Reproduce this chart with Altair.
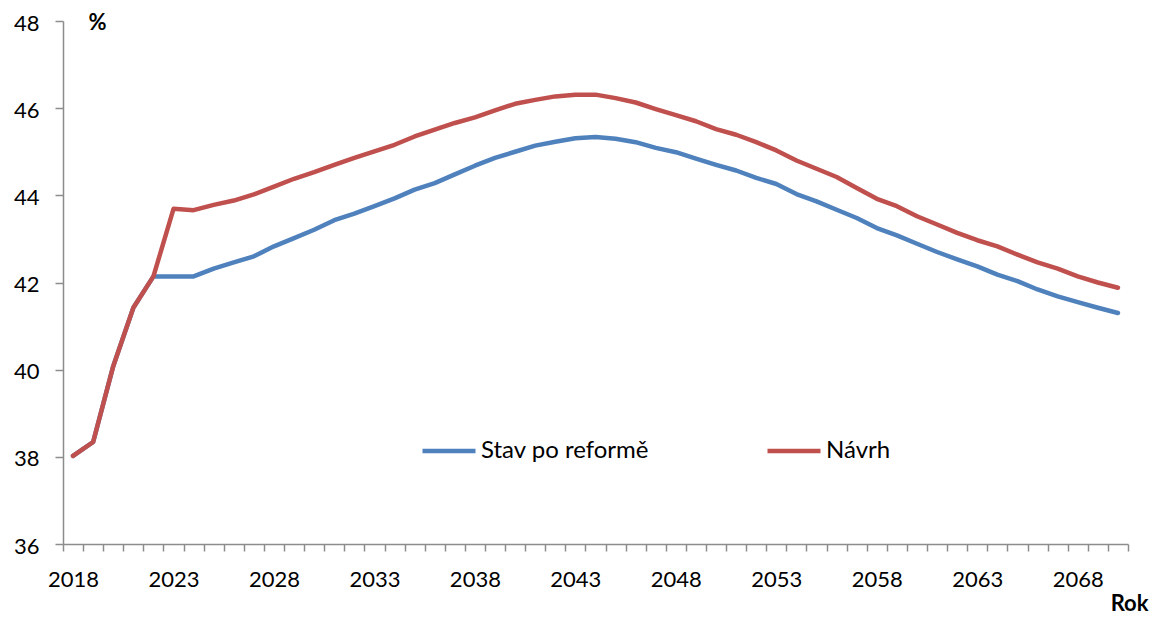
import altair as alt
import pandas as pd

years = list(range(2018, 2071))

stav = [38.02, 38.34, 40.08, 41.42, 42.14, 42.14, 42.14, 42.32, 42.46, 42.60,
        42.83, 43.02, 43.21, 43.43, 43.58, 43.75, 43.93, 44.13, 44.28, 44.48,
        44.68, 44.86, 45.00, 45.14, 45.23, 45.31, 45.34, 45.30, 45.22, 45.09,
        44.99, 44.84, 44.70, 44.57, 44.40, 44.26, 44.03, 43.86, 43.67, 43.48,
        43.25, 43.08, 42.89, 42.70, 42.53, 42.37, 42.18, 42.03, 41.84, 41.68,
        41.55, 41.42, 41.30]

navrh = [38.02, 38.34, 40.08, 41.42, 42.14, 43.69, 43.66, 43.78, 43.88, 44.02,
         44.20, 44.38, 44.53, 44.70, 44.86, 45.01, 45.16, 45.35, 45.51, 45.66,
         45.79, 45.95, 46.10, 46.19, 46.27, 46.31, 46.31, 46.23, 46.13, 45.98,
         45.84, 45.70, 45.52, 45.39, 45.22, 45.03, 44.80, 44.61, 44.42, 44.17,
         43.92, 43.75, 43.52, 43.33, 43.14, 42.97, 42.83, 42.64, 42.46, 42.32,
         42.14, 42.00, 41.88]

series_names = ["Stav po reformě", "Návrh"]
series_colors = ["#4F81BD", "#C0504D"]
y_ticks = [36, 38, 40, 42, 44, 46, 48]

df = pd.DataFrame({
    "rok": years * 2,
    "hodnota": stav + navrh,
    "serie": [series_names[0]] * len(years) + [series_names[1]] * len(years),
})

x_tick_values = [years[0] - 0.5 + i for i in range(len(years) + 1)]

x_enc = alt.X(
    "rok:Q",
    scale=alt.Scale(domain=[years[0] - 0.5, years[-1] + 0.5], nice=False, zero=False),
    axis=alt.Axis(
        values=x_tick_values,
        labelExpr="((datum.value + 0.5 - 2018) % 5 == 0) && datum.value < 2070 ? format(datum.value + 0.5, 'd') : ''",
        labelOffset=10,
        labelOverlap=False,
        labelFlush=False,
        labelPadding=18,
        tickSize=7,
        grid=False,
        title="Rok",
        titleAlign="right",
        titleBaseline="alphabetic",
        titleX=1085,
        titleY=66,
        titleFontWeight="bold",
    ),
)

y_enc = alt.Y(
    "hodnota:Q",
    scale=alt.Scale(domain=[36, 48], nice=False, zero=False),
    axis=alt.Axis(
        values=y_ticks,
        tickSize=8,
        labelPadding=16,
        labelOffset=2,
        grid=False,
        title="%",
        titleAngle=0,
        titleAlign="center",
        titleBaseline="alphabetic",
        titleX=34,
        titleY=8,
        titleFontWeight="bold",
    ),
)

color_enc = alt.Color(
    "serie:N",
    scale=alt.Scale(domain=series_names, range=series_colors),
    legend=alt.Legend(
        orient="none",
        legendX=357,
        legendY=401,
        direction="horizontal",
        title=None,
        symbolType="stroke",
        symbolSize=2809,
        symbolStrokeWidth=4.5,
        labelOffset=3,
        columnPadding=108,
        padding=0,
        labelFontSize=24,
        labelLimit=400,
        labelColor="black",
        labelFont="Lato",
    ),
)

base = alt.Chart(df).mark_line(strokeWidth=4.5, strokeCap="round", strokeJoin="round")

blue = base.transform_filter(alt.datum.serie == series_names[0]).encode(x=x_enc, y=y_enc, color=color_enc)
red = base.transform_filter(alt.datum.serie == series_names[1]).encode(x=x_enc, y=y_enc, color=color_enc)

chart = alt.layer(blue, red).properties(
    width=1065,
    height=523,
    autosize=alt.AutoSizeParams(type="none"),
    padding={"left": 55, "top": 13, "right": 23, "bottom": 72},
).configure(
    font="Lato",
).configure_view(
    stroke=None,
).configure_axis(
    labelFont="Lato",
    labelFontSize=22,
    labelColor="black",
    titleFont="Lato",
    titleFontSize=22,
    titleColor="black",
    domainColor="#8C8C8C",
    tickColor="#8C8C8C",
    domainWidth=1.5,
    tickWidth=1.5,
)

chart.save("out.html", embed_options={"renderer": "svg", "actions": False})
